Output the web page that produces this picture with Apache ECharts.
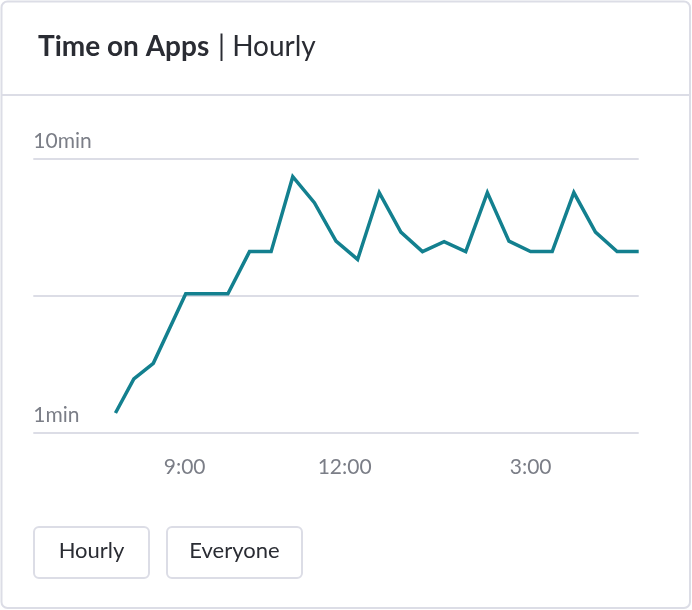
<!DOCTYPE html>
<html>
<head>
<meta charset="utf-8">
<script src="https://cdn.jsdelivr.net/npm/echarts@6/dist/echarts.min.js"></script>
<style>
  html, body { margin: 0; padding: 0; background: #ffffff; }
  #chart { width: 692px; height: 610px; }
</style>
</head>
<body>
<div id="chart"></div>
<script>
// ---- data ----
const slots = [3.8, 4.65, 5.55, 7.05, 9, 10, 11, 12, 13, 14, 15, 16, 17, 18, 19, 20, 21, 22, 23, 24, 25, 26, 27, 28];
const minutes = [1.18, 1.57, 1.79, 3.21, 3.21, 4.57, 4.57, 8.57, 6.89, 4.99, 4.28, 7.5, 5.38, 4.57, 4.97, 4.57, 7.5, 4.99, 4.57, 4.57, 7.5, 5.38, 4.57, 4.57];
const xTickLabels = ['9:00', '12:00', '3:00'];
const xTickSlots = [7, 14.4, 23];
const yTickLabels = { 1: '1min', 10: '10min' };
const titleBold = 'Time on Apps';
const titleRest = '| Hourly';
const buttons = ['Hourly', 'Everyone'];

const FONT = 'Lato, "Open Sans", sans-serif';
const BORDER = '#dcdde6';
const TEXT = '#2a2c33';
const MUTED = '#7b7e87';

const chart = echarts.init(document.getElementById('chart'), null, { renderer: 'canvas' });

const option = {
  backgroundColor: '#ffffff',
  animation: false,
  textStyle: { fontFamily: FONT },
  title: {
    left: 38,
    top: 33,
    padding: 0,
    text: '{b|' + titleBold + '}  {n|' + titleRest + '}',
    textStyle: {
      rich: {
        b: { fontFamily: FONT, fontWeight: 'bold', fontSize: 28, color: TEXT },
        n: { fontFamily: FONT, fontWeight: 'normal', fontSize: 28, color: TEXT }
      }
    }
  },
  grid: { left: 33.3, right: 53.3, top: 158.3, bottom: 177.3, containLabel: false },
  xAxis: {
    type: 'value',
    min: 0,
    max: 28,
    axisLine: { show: false },
    axisTick: { show: false },
    splitLine: { show: false },
    axisLabel: {
      customValues: xTickSlots,
      margin: 24,
      fontFamily: FONT,
      fontSize: 21,
      color: MUTED,
      formatter: function (v) {
        const i = xTickSlots.findIndex(function (s) { return Math.abs(s - v) < 1e-6; });
        return i >= 0 ? xTickLabels[i] : '';
      }
    }
  },
  yAxis: {
    type: 'log',
    logBase: Math.sqrt(10),
    min: 1,
    max: 10,
    splitNumber: 2,
    axisLine: { show: false },
    axisTick: { show: false },
    splitLine: { show: true, lineStyle: { color: BORDER, width: 2 } },
    axisLabel: {
      inside: true,
      margin: 0,
      verticalAlign: 'bottom',
      padding: [0, 0, 7, 0],
      fontFamily: FONT,
      fontSize: 21,
      color: MUTED,
      formatter: function (v) {
        const r = Math.round(v * 1000) / 1000;
        return yTickLabels[r] || '';
      }
    }
  },
  series: [{
    type: 'line',
    data: slots.map(function (s, i) { return [s, minutes[i]]; }),
    showSymbol: false,
    symbol: 'none',
    lineStyle: { color: '#13808f', width: 3.5, join: 'miter' },
    itemStyle: { color: '#13808f' }
  }],
  graphic: [
    { type: 'rect', z: -1, silent: true,
      shape: { x: 1.5, y: 1.5, width: 688.5, height: 606.5, r: 6 },
      style: { fill: '#ffffff', stroke: BORDER, lineWidth: 2 } },
    { type: 'line', silent: true,
      shape: { x1: 2, y1: 95, x2: 690, y2: 95 },
      style: { stroke: BORDER, lineWidth: 2 } },
    { type: 'group', left: 33, top: 526, children: [
      { type: 'rect', shape: { x: 0, y: 0, width: 115, height: 51, r: 5 },
        style: { fill: '#ffffff', stroke: BORDER, lineWidth: 2 } },
      { type: 'text', x: 57.5, y: 24,
        style: { text: buttons[0], fontFamily: FONT, fontSize: 22, fill: TEXT, align: 'center', verticalAlign: 'middle' } }
    ]},
    { type: 'group', left: 166, top: 526, children: [
      { type: 'rect', shape: { x: 0, y: 0, width: 135, height: 51, r: 5 },
        style: { fill: '#ffffff', stroke: BORDER, lineWidth: 2 } },
      { type: 'text', x: 67.5, y: 24,
        style: { text: buttons[1], fontFamily: FONT, fontSize: 22, fill: TEXT, align: 'center', verticalAlign: 'middle' } }
    ]}
  ]
};

chart.setOption(option);
</script>
</body>
</html>
